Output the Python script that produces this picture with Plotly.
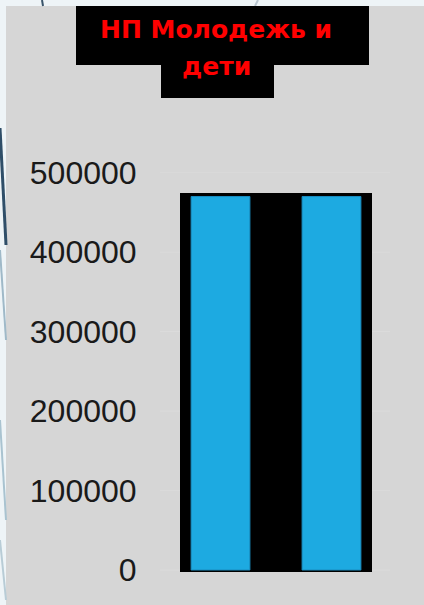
import plotly.graph_objects as go

# data
categories = ["Ряд 1", "Ряд 2"]
values = [470000, 470000]
tick_vals = [0, 100000, 200000, 300000, 400000, 500000]
tick_text = ["0", "100000", "200000", "300000", "400000", "500000"]
title_line1 = "НП Молодежь и"
title_line2 = "дети"

W, H = 424, 605
M_L, M_R, M_T, M_B = 180, 52, 156, 33
PW, PH = W - M_L - M_R, H - M_T - M_B


def px(x):
    return (x - M_L) / PW


def py(y):
    return (H - M_B - y) / PH


fig = go.Figure()

fig.add_trace(go.Bar(
    x=categories, y=values,
    width=0.53,
    marker={'color': '#1DAAE1', 'line': {'color': '#1A8CBF', 'width': 1}},
    hoverinfo='skip'
))

shapes = [
    # slide background (gray panel)
    dict(type='rect', xref='paper', yref='paper', x0=px(6), x1=px(W + 5), y0=py(6), y1=py(H + 5),
         fillcolor='#d6d6d6', line={'width': 0}, layer='below'),
]
# faint gridlines (behind the black chart area)
for v in tick_vals:
    shapes.append(dict(type='line', xref='paper', yref='y', x0=px(160), x1=px(390), y0=v, y1=v,
                       line={'color': '#dbdbdb', 'width': 1}, layer='below'))
shapes += [
    # black chart area
    dict(type='rect', xref='paper', yref='y', x0=0, x1=1, y0=-2500, y1=474500,
         fillcolor='black', line={'width': 0}, layer='below'),
    # title boxes
    dict(type='rect', xref='paper', yref='paper', x0=px(76), x1=px(369), y0=py(6), y1=py(65),
         fillcolor='black', line={'width': 0}, layer='above'),
    dict(type='rect', xref='paper', yref='paper', x0=px(161), x1=px(274), y0=py(64), y1=py(98),
         fillcolor='black', line={'width': 0}, layer='above'),
]

# decorative slide lines on the left edge
deco = [
    ((0, 128), (6, 245), '#2f4e68', 3),
    ((0, 250), (6, 340), '#9fb9c8', 2),
    ((0, 420), (6, 520), '#a9c3d0', 2),
    ((0, 540), (6, 600), '#b8ccd6', 2),
    ((42, 0), (43, 6), '#3a556b', 2),
    ((258, 0), (255, 6), '#b9c6d0', 2),
]
for (x0, y0), (x1, y1), c, w in deco:
    shapes.append(dict(type='line', xref='paper', yref='paper', x0=px(x0), y0=py(y0), x1=px(x1), y1=py(y1),
                       line={'color': c, 'width': w}, layer='below'))

annotations = [
    dict(text=f'<b>{title_line1}</b>', xref='paper', yref='paper', x=px(216), y=py(29),
         xanchor='center', yanchor='middle', showarrow=False,
         font={'family': 'DejaVu Sans', 'size': 25, 'color': '#ff0000'}),
    dict(text=f'<b>{title_line2}</b>', xref='paper', yref='paper', x=px(216), y=py(66),
         xanchor='center', yanchor='middle', showarrow=False,
         font={'family': 'DejaVu Sans', 'size': 25, 'color': '#ff0000'}),
]

fig.update_layout(
    width=W, height=H,
    margin={'l': M_L, 'r': M_R, 't': M_T, 'b': M_B, 'pad': 0},
    paper_bgcolor='#eef4f7', plot_bgcolor='rgba(0,0,0,0)',
    showlegend=False,
    shapes=shapes,
    annotations=annotations,
    xaxis={'range': [-0.365, 1.365], 'showticklabels': False, 'showgrid': False,
           'zeroline': False, 'showline': False, 'fixedrange': True},
    yaxis={'range': [-2500, 521000], 'tickvals': tick_vals, 'ticktext': tick_text,
           'tickfont': {'family': 'Liberation Sans', 'size': 32, 'color': '#1a1a1a'},
           'ticks': 'outside', 'ticklen': 0, 'ticklabelstandoff': 36,
           'showgrid': False, 'zeroline': False, 'showline': False, 'fixedrange': True},
)

fig.write_html("out.html", config={'displayModeBar': False},
               post_script="document.body.style.margin='0';document.body.style.overflow='hidden';")
